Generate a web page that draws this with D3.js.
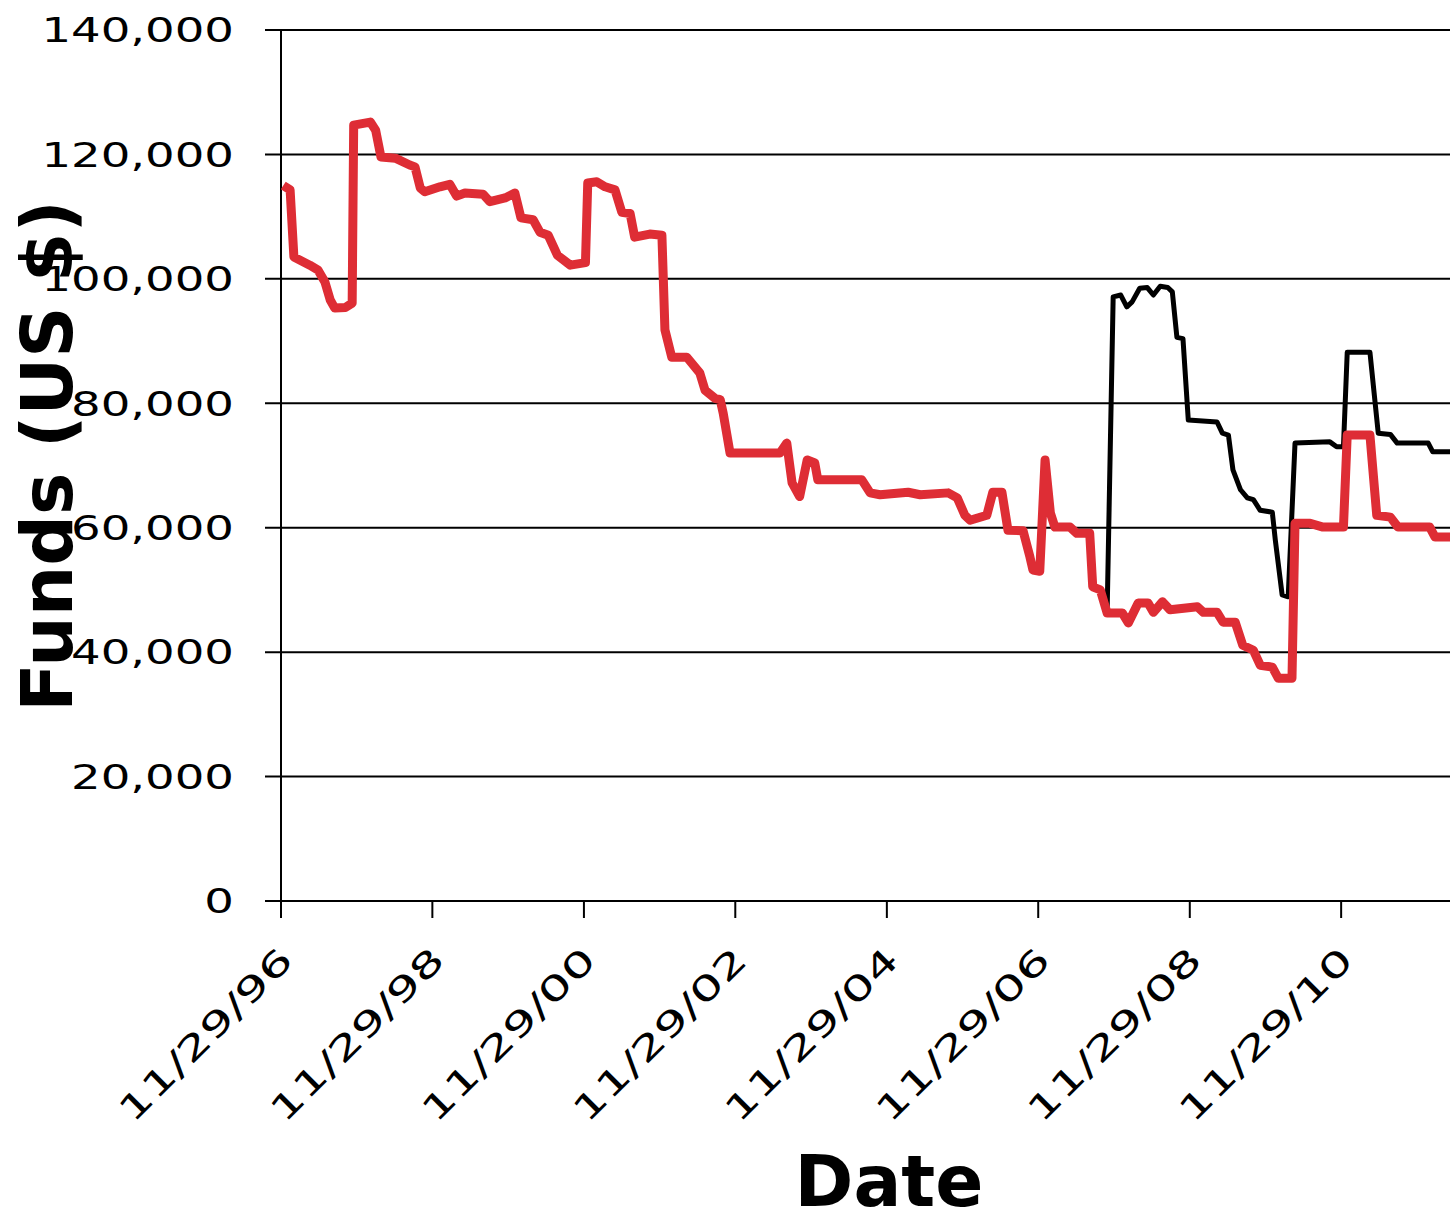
<!DOCTYPE html>
<html lang="en">
  <head>
    <meta charset="UTF-8" />
    <title>Funds over time</title>
    <script src="https://d3js.org/d3.v7.min.js"></script>
    <style>
      body { margin: 0; background: #fff; }
      svg { display: block; }
    </style>
  </head>
  <body>
    <svg></svg>
    <script>
      // values; dates kept as decimal years
      let redYears = [
        1996.94, 1997.03, 1997.08, 1997.29, 1997.4, 1997.49, 1997.56, 1997.62, 1997.76, 1997.85,
        1997.87, 1998.09, 1998.16, 1998.23, 1998.42, 1998.61, 1998.68, 1998.75, 1998.81, 1999.01,
        1999.14, 1999.23, 1999.34, 1999.58, 1999.67, 1999.87, 2000.0, 2000.08, 2000.24, 2000.33,
        2000.44, 2000.56, 2000.73, 2000.93, 2000.96, 2001.08, 2001.19, 2001.32, 2001.41, 2001.52,
        2001.58, 2001.78, 2001.94, 2001.98, 2002.07, 2002.27, 2002.44, 2002.51, 2002.64, 2002.71,
        2002.75, 2002.84, 2003.5, 2003.59, 2003.66, 2003.76, 2003.86, 2003.96, 2004.0, 2004.58,
        2004.69, 2004.82, 2005.19, 2005.35, 2005.72, 2005.84, 2005.94, 2006.01, 2006.23, 2006.31,
        2006.43, 2006.51, 2006.71, 2006.8, 2006.84, 2006.93, 2007.0, 2007.07, 2007.13, 2007.33,
        2007.42, 2007.59, 2007.63, 2007.73, 2007.82, 2008.02, 2008.1, 2008.23, 2008.36, 2008.43,
        2008.55, 2008.65, 2009.01, 2009.09, 2009.27, 2009.35, 2009.51, 2009.61, 2009.75, 2009.84,
        2010.0, 2010.08, 2010.26, 2010.3, 2010.5, 2010.67, 2010.94, 2010.99, 2011.29, 2011.38,
        2011.56, 2011.66, 2012.08, 2012.15, 2012.4
      ];
      let redFunds = [
        115000, 114300, 103500, 102200, 101400, 99500, 96600, 95300, 95400, 96100,
        124700, 125200, 123900, 119600, 119400, 118300, 118000, 114600, 114000, 114800,
        115200, 113300, 113800, 113600, 112400, 113000, 113800, 109800, 109500, 107500,
        107000, 103800, 102200, 102600, 115400, 115600, 114800, 114300, 110700, 110500,
        106700, 107200, 107000, 91800, 87400, 87400, 84900, 82100, 80800, 80600,
        78400, 72000, 72000, 73600, 67200, 65000, 70900, 70400, 67700, 67700,
        65600, 65300, 65700, 65300, 65600, 64800, 62000, 61200, 62000, 65700,
        65700, 59600, 59500, 55300, 53200, 53000, 70900, 62400, 60100, 60100,
        59100, 59100, 50500, 50000, 46300, 46300, 44700, 47900, 47900, 46400,
        48100, 46800, 47300, 46400, 46400, 44800, 44800, 41100, 40300, 37900,
        37600, 35800, 35800, 60700, 60700, 60100, 60100, 74900, 74900, 62000,
        61700, 60100, 60100, 58500, 58500
      ];

      let blackYears = [
        2007.82, 2007.9, 2008.0, 2008.08, 2008.15, 2008.25, 2008.35, 2008.43, 2008.52, 2008.62,
        2008.68, 2008.74, 2008.82, 2008.89, 2009.27, 2009.34, 2009.42, 2009.48, 2009.58, 2009.67,
        2009.75, 2009.84, 2010.0, 2010.04, 2010.13, 2010.21, 2010.3, 2010.76, 2010.85, 2010.94,
        2010.99, 2011.29, 2011.4, 2011.56, 2011.65, 2012.06, 2012.12, 2012.4
      ];
      let blackFunds = [
        46300, 97100, 97400, 95500, 96300, 98500, 98600, 97400, 98800, 98600,
        97900, 90600, 90400, 77300, 77000, 75200, 74900, 69300, 66100, 64800,
        64500, 62800, 62500, 58000, 49200, 48900, 73600, 73800, 73000, 73000,
        88200, 88200, 75200, 75000, 73600, 73600, 72200, 72200
      ];

      let yTicks = [0, 20000, 40000, 60000, 80000, 100000, 120000, 140000];
      let xTickDates = ["1996-11-29", "1998-11-29", "2000-11-29", "2002-11-29",
        "2004-11-29", "2006-11-29", "2008-11-29", "2010-11-29"];

      function yearToDate(v) {
        let yr = Math.floor(v);
        let a = new Date(yr, 0, 1), b = new Date(yr + 1, 0, 1);
        return new Date(+a + (v - yr) * (b - a));
      }

      let width = 1450, height = 1217;
      let plotLeft = 281, plotTop = 30, plotBottom = 901;

      let svg = d3.select("svg").attr("width", width).attr("height", height);

      let x = d3.scaleTime()
        .domain([new Date(1996, 10, 29), new Date(2012, 4, 7)])
        .range([plotLeft, width]);
      let y = d3.scaleLinear().domain([0, 140000]).range([plotBottom, plotTop]);

      let fmt = d3.format(",");
      let tfmt = d3.timeFormat("%m/%d/%y");

      // gridlines
      svg.append("g")
        .selectAll("line")
        .data(yTicks)
        .join("line")
        .attr("x1", plotLeft - 16)
        .attr("x2", width)
        .attr("y1", (d) => y(d))
        .attr("y2", (d) => y(d))
        .attr("stroke", "#000")
        .attr("stroke-width", 2);

      // y axis line
      svg.append("line")
        .attr("x1", plotLeft).attr("x2", plotLeft)
        .attr("y1", plotTop).attr("y2", plotBottom)
        .attr("stroke", "#000").attr("stroke-width", 2);

      // y tick labels (wide face, stretched)
      svg.append("g")
        .selectAll("text")
        .data(yTicks)
        .join("text")
        .attr("transform", (d) => "translate(234," + y(d) + ") scale(1.37,1)")
        .attr("text-anchor", "end")
        .attr("dy", "0.36em")
        .style("font-family", "'DejaVu Sans', Verdana, sans-serif")
        .style("font-size", "34px")
        .text((d) => fmt(d));

      // x ticks + labels
      let xt = svg.append("g")
        .selectAll("g")
        .data(xTickDates.map((s) => d3.timeParse("%Y-%m-%d")(s)))
        .join("g");
      xt.append("line")
        .attr("x1", (d) => x(d)).attr("x2", (d) => x(d))
        .attr("y1", plotBottom).attr("y2", plotBottom + 17)
        .attr("stroke", "#000").attr("stroke-width", 2);
      xt.append("text")
        .attr("transform", (d) => "translate(" + (x(d) + 14) + ",962) rotate(-45) scale(1.5,1)")
        .attr("text-anchor", "end")
        .style("font-family", "'DejaVu Sans', Verdana, sans-serif")
        .style("font-size", "34px")
        .text((d) => tfmt(d));

      let line = d3.line()
        .x((d) => x(yearToDate(d[0])))
        .y((d) => y(d[1]));

      svg.append("path")
        .datum(d3.zip(blackYears, blackFunds))
        .attr("d", line)
        .attr("fill", "none")
        .attr("stroke", "#000")
        .attr("stroke-width", 5)
        .attr("stroke-linejoin", "round");

      svg.append("path")
        .datum(d3.zip(redYears, redFunds))
        .attr("d", line)
        .attr("fill", "none")
        .attr("stroke", "#DE2D35")
        .attr("stroke-width", 9)
        .attr("stroke-linejoin", "round");

      // axis titles
      svg.append("text")
        .attr("x", 889)
        .attr("y", 1206)
        .attr("text-anchor", "middle")
        .style("font-family", "'DejaVu Sans', Verdana, sans-serif")
        .style("font-weight", "bold")
        .style("font-size", "71px")
        .text("Date");

      svg.append("text")
        .attr("transform", "translate(72,456) rotate(-90)")
        .attr("text-anchor", "middle")
        .style("font-family", "'DejaVu Sans', Verdana, sans-serif")
        .style("font-weight", "bold")
        .style("font-size", "71px")
        .text("Funds (US $)");
    </script>
  </body>
</html>
